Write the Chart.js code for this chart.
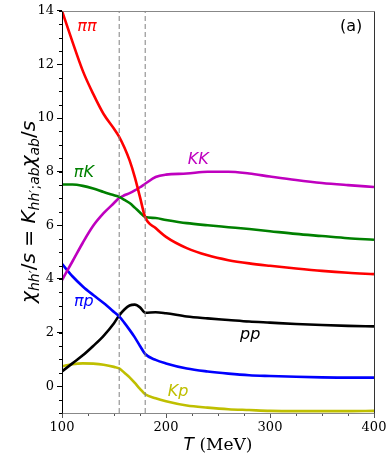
<!DOCTYPE html>
<html lang="en">
<head>
  <meta charset="UTF-8">
  <title>Susceptibility ratios vs T</title>
  <script src="https://cdn.jsdelivr.net/npm/chart.js"></script>
  <style>
    html, body { margin: 0; padding: 0; background: #fff; }
    .chart-box { width: 390px; height: 455px; }
  </style>
</head>
<body>
  <div class="chart-box"><canvas id="chiChart" width="390" height="455"></canvas></div>

  <script>
    // temperature grid (MeV) and curves
    const T      = [100, 110, 120, 130, 140, 150, 155, 160, 165, 170, 175, 180, 190, 200, 220, 240, 260, 280, 300, 325, 350, 375, 400];
    const piPi   = [14.0, 12.85, 11.76, 10.9, 10.15, 9.6, 9.3, 8.9, 8.42, 7.8, 7.05, 6.3, 5.9, 5.57, 5.15, 4.88, 4.7, 4.58, 4.49, 4.39, 4.3, 4.23, 4.18];
    const piK    = [7.52, 7.52, 7.47, 7.37, 7.24, 7.12, 7.06, 6.95, 6.83, 6.66, 6.48, 6.31, 6.27, 6.2, 6.08, 6.0, 5.93, 5.86, 5.78, 5.68, 5.6, 5.52, 5.46];
    const KK     = [3.96, 4.65, 5.35, 5.98, 6.45, 6.83, 7.02, 7.12, 7.2, 7.3, 7.42, 7.55, 7.8, 7.89, 7.93, 8.0, 8.0, 7.93, 7.82, 7.69, 7.58, 7.5, 7.43];
    const piP    = [4.56, 4.1, 3.72, 3.4, 3.1, 2.77, 2.6, 2.36, 2.1, 1.82, 1.5, 1.2, 0.98, 0.85, 0.66, 0.55, 0.47, 0.41, 0.38, 0.35, 0.33, 0.32, 0.32];
    const pp     = [0.55, 0.85, 1.15, 1.5, 1.88, 2.35, 2.64, 2.86, 3.01, 3.04, 2.94, 2.74, 2.76, 2.72, 2.6, 2.53, 2.47, 2.41, 2.37, 2.32, 2.28, 2.25, 2.23];
    const Kp     = [0.74, 0.82, 0.85, 0.84, 0.8, 0.72, 0.66, 0.5, 0.33, 0.12, -0.1, -0.3, -0.45, -0.56, -0.72, -0.8, -0.86, -0.89, -0.92, -0.93, -0.93, -0.93, -0.92];
    const vLines = [155, 180];   // dashed markers
    const yRange = [-1, 14];
    const xRange = [100, 400];

    const series = [
      { name: 'ππ', data: piPi, color: '#ff0000', at: [124, 13.4] },
      { name: 'πK', data: piK,  color: '#008000', at: [121, 7.97] },
      { name: 'KK', data: KK,   color: '#bf00bf', at: [231, 8.43] },
      { name: 'πp', data: piP,  color: '#0000ff', at: [121, 3.14] },
      { name: 'pp', data: pp,   color: '#000000', at: [281, 1.9] },
      { name: 'Kp', data: Kp,   color: '#bfbf00', at: [211.5, -0.2] }
    ];

    const datasets = vLines.map(t => ({
      data: [{ x: t, y: yRange[0] }, { x: t, y: yRange[1] }],
      borderColor: '#808080', borderWidth: 1, borderDash: [5, 3],
      pointRadius: 0, tension: 0
    }));
    series.forEach(s => datasets.push({
      label: s.name,
      data: T.map((t, i) => ({ x: t, y: s.data[i] })),
      borderColor: s.color, borderWidth: 2.6,
      pointRadius: 0, cubicInterpolationMode: 'monotone'
    }));

    // frame, minor ticks, axis titles and curve labels
    const decor = {
      id: 'decor',
      afterDraw(chart) {
        const { ctx, chartArea: a, scales: { x, y } } = chart;
        ctx.save();
        // minor ticks
        ctx.lineWidth = 1;
        ctx.strokeStyle = '#000';
        for (let v = yRange[0]; v <= yRange[1]; v += 0.5) {
          const py = Math.round(y.getPixelForValue(v)) + 0.5;
          ctx.beginPath(); ctx.moveTo(a.left - 3, py); ctx.lineTo(a.left, py); ctx.stroke();
        }
        ctx.strokeStyle = '#555';
        for (let v = xRange[0]; v <= xRange[1]; v += 25) {
          const px = Math.round(x.getPixelForValue(v)) + 0.5;
          ctx.beginPath(); ctx.moveTo(px, a.bottom); ctx.lineTo(px, a.bottom + 3); ctx.stroke();
        }
        // frame
        const L = Math.round(a.left) + 0.5, R = Math.round(a.right) + 0.5;
        const Tp = Math.round(a.top) + 0.5, B = Math.round(a.bottom) + 0.5;
        ctx.strokeStyle = '#888';
        ctx.beginPath(); ctx.moveTo(L, Tp); ctx.lineTo(R, Tp); ctx.stroke();
        ctx.beginPath(); ctx.moveTo(L, B); ctx.lineTo(R, B); ctx.stroke();
        ctx.strokeStyle = '#333';
        ctx.beginPath(); ctx.moveTo(R, Tp); ctx.lineTo(R, B); ctx.stroke();
        ctx.strokeStyle = '#000';
        ctx.beginPath(); ctx.moveTo(L, Tp); ctx.lineTo(L, B); ctx.stroke();

        // curve labels
        ctx.font = 'italic 16px "DejaVu Sans"';
        ctx.textAlign = 'center';
        ctx.textBaseline = 'middle';
        series.forEach(s => {
          ctx.fillStyle = s.color;
          ctx.fillText(s.name, x.getPixelForValue(s.at[0]), y.getPixelForValue(s.at[1]));
        });
        ctx.fillStyle = '#000';
        ctx.font = '16px "DejaVu Sans"';
        ctx.fillText('(a)', x.getPixelForValue(378), y.getPixelForValue(13.4));

        // x title: T (MeV)
        const xt = [['T', 'italic 17px "DejaVu Sans"'], [' (MeV)', '17px "DejaVu Serif"']];
        let w = 0;
        xt.forEach(p => { ctx.font = p[1]; w += ctx.measureText(p[0]).width; });
        let cx = (a.left + a.right) / 2 - w / 2;
        ctx.textAlign = 'left';
        ctx.textBaseline = 'alphabetic';
        xt.forEach(p => { ctx.font = p[1]; ctx.fillText(p[0], cx, 450); cx += ctx.measureText(p[0]).width; });

        // y title: chi_hh'/s = K_hh';ab chi_ab/s
        const big = 20, sub = 14;
        const it = n => 'italic ' + n + 'px "DejaVu Sans"';
        const up = n => n + 'px "DejaVu Sans"';
        const yt = [
          ['χ', it(big), 0], ['hh', it(sub), 4], ['′', up(sub), 4], ['/', up(big), 0], ['s', it(big), 0],
          [' = ', up(big), 0], ['K', it(big), 0], ['hh', it(sub), 4], ['′', up(sub), 4], [';', up(sub), 4],
          ['ab', it(sub), 4], ['χ', it(big), 0], ['ab', it(sub), 4], ['/', up(big), 0], ['s', it(big), 0]
        ];
        w = 0;
        yt.forEach(p => { ctx.font = p[1]; w += ctx.measureText(p[0]).width; });
        ctx.translate(35, (a.top + a.bottom) / 2);
        ctx.rotate(-Math.PI / 2);
        cx = -w / 2;
        yt.forEach(p => { ctx.font = p[1]; ctx.fillText(p[0], cx, p[2]); cx += ctx.measureText(p[0]).width; });
        ctx.restore();
      }
    };

    new Chart(document.getElementById('chiChart'), {
      type: 'line',
      data: { datasets: datasets },
      options: {
        responsive: false,
        animation: false,
        layout: { padding: { top: 9, right: 16, left: 0, bottom: 0 } },
        plugins: { legend: { display: false }, tooltip: { enabled: false } },
        scales: {
          x: {
            type: 'linear', min: xRange[0], max: xRange[1],
            afterFit: s => { s.height = 42; },
            border: { display: false },
            grid: { drawOnChartArea: false, tickLength: 5, tickColor: '#555' },
            ticks: { stepSize: 100, color: '#000', padding: 2, maxRotation: 0,
                     font: { family: 'DejaVu Serif', size: 13 } }
          },
          y: {
            min: yRange[0], max: yRange[1],
            afterFit: s => { s.width = 62; },
            afterBuildTicks: s => { s.ticks = [0, 2, 4, 6, 8, 10, 12, 14].map(v => ({ value: v })); },
            border: { display: false },
            grid: { drawOnChartArea: false, tickLength: 5, tickColor: '#000' },
            ticks: { color: '#000', padding: 3, font: { family: 'DejaVu Serif', size: 13 } }
          }
        }
      },
      plugins: [decor]
    });
  </script>
</body>
</html>
